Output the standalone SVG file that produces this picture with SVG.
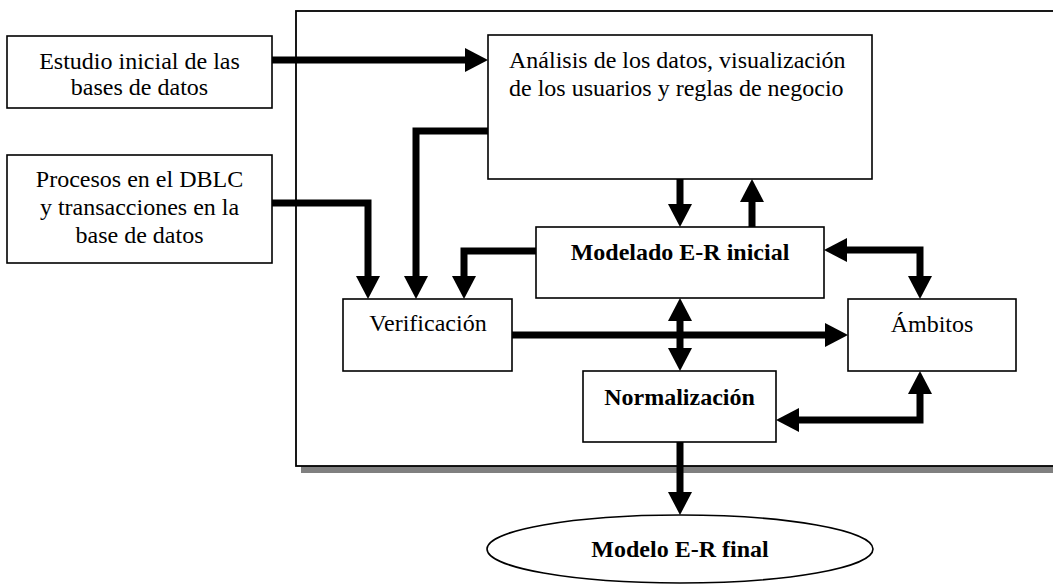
<svg xmlns="http://www.w3.org/2000/svg" width="1053" height="585" viewBox="0 0 1053 585">
<style>
.box{fill:#fff;stroke:#000;stroke-width:1.6}
.t{font-family:"Liberation Serif","Times New Roman",serif;font-size:24px;fill:#000}
.b{font-weight:bold}
.c{text-anchor:middle}
.con path{fill:none;stroke:#000;stroke-width:7;stroke-linejoin:miter}
</style>
<defs>
<marker id="ah" viewBox="0 0 23 24" markerWidth="23" markerHeight="24" refX="0" refY="12" orient="auto-start-reverse" markerUnits="userSpaceOnUse">
<path d="M0,0 L23,12 L0,24 z" fill="#000"/>
</marker>
</defs>
<rect width="1053" height="585" fill="#fff"/>
<g id="frame">
<rect x="301" y="16" width="760" height="457" fill="#808080"/>
<rect x="296" y="11" width="760" height="455" fill="#fff" stroke="#000" stroke-width="1.8"/>
</g>
<g id="estudio">
<rect class="box" x="7" y="36" width="265" height="72"/>
<text class="t c" x="139.5" y="69">Estudio inicial de las</text>
<text class="t c" x="139.5" y="95">bases de datos</text>
</g>
<g id="procesos">
<rect class="box" x="7" y="155" width="265" height="108"/>
<text class="t c" x="139.5" y="187">Procesos en el DBLC</text>
<text class="t c" x="139.5" y="215">y transacciones en la</text>
<text class="t c" x="139.5" y="243">base de datos</text>
</g>
<g id="analisis">
<rect class="box" x="488" y="35" width="384" height="144"/>
<text class="t" x="509" y="68">Análisis de los datos, visualización</text>
<text class="t" x="509" y="96">de los usuarios y reglas de negocio</text>
</g>
<g id="modelado">
<rect class="box" x="536" y="227" width="288" height="71"/>
<text class="t b c" x="680" y="260">Modelado E-R inicial</text>
</g>
<g id="verificacion">
<rect class="box" x="343" y="299" width="169" height="72"/>
<text class="t c" x="428" y="331">Verificación</text>
</g>
<g id="ambitos">
<rect class="box" x="848" y="299" width="168" height="72"/>
<text class="t c" x="932" y="332">Ámbitos</text>
</g>
<g id="normalizacion">
<rect class="box" x="583" y="371" width="193" height="71"/>
<text class="t b c" x="679.5" y="405">Normalización</text>
</g>
<g id="final">
<ellipse class="box" cx="680" cy="549" rx="193" ry="34"/>
<text class="t b c" x="680" y="557">Modelo E-R final</text>
</g>
<g id="connectors" class="con">
<path d="M272,60 H465" marker-end="url(#ah)"/>
<path d="M272,203 H368 V276" marker-end="url(#ah)"/>
<path d="M488,131 H416 V276" marker-end="url(#ah)"/>
<path d="M536,251 H464 V276" marker-end="url(#ah)"/>
<path d="M680,179 V204" marker-end="url(#ah)"/>
<path d="M752,227 V202" marker-end="url(#ah)"/>
<path d="M847,250 H920 V276" marker-start="url(#ah)" marker-end="url(#ah)"/>
<path d="M512,335 H825" marker-end="url(#ah)"/>
<path d="M680,321 V348" marker-start="url(#ah)" marker-end="url(#ah)"/>
<path d="M799,420 H920 V394" marker-start="url(#ah)" marker-end="url(#ah)"/>
<path d="M680,442 V492" marker-end="url(#ah)"/>
</g>
</svg>
